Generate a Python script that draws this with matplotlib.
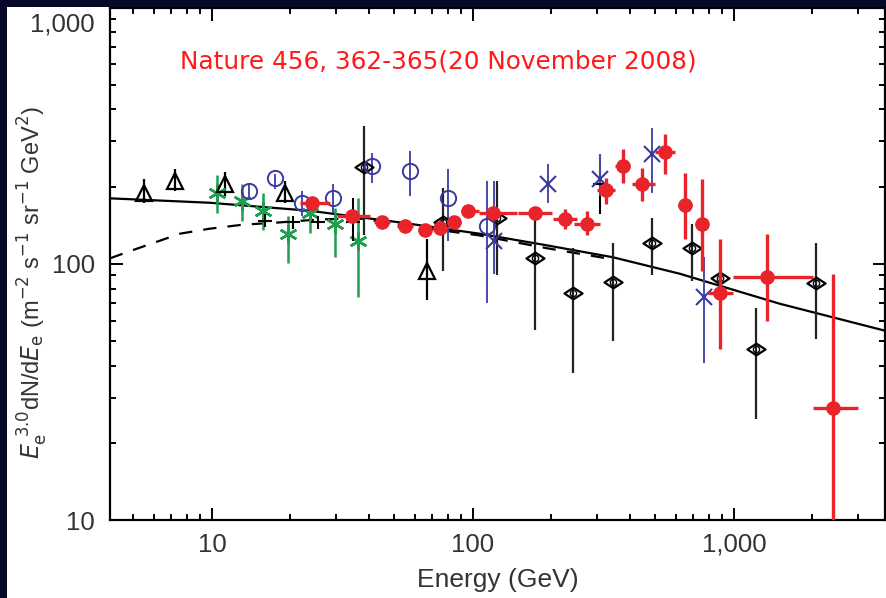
import numpy as np
import matplotlib
matplotlib.use('Agg')
import matplotlib.pyplot as plt
from matplotlib.patches import Rectangle
from matplotlib.path import Path

# black open triangles
tri_E = [5.5, 7.2, 11.2, 19.0, 67]
tri_F = [189, 211, 205, 189, 94]
tri_hi = [215, 235, 229, 211, 125]
tri_lo = [173, 193, 184, 173, 72]

# green asterisks
grn_E = [10.5, 13.0, 15.7, 19.5, 23.7, 29.6, 36.2]
grn_F = [188, 176, 161, 131, 158, 143, 123]
grn_hi = [221, 205, 188, 154, 176, 165, 180]
grn_lo = [158, 147, 135, 101, 132, 106, 74]

# black dashes
dsh_E = [16.0, 20.4, 25.5, 34.7, 307]
dsh_F = [147, 145, 145, 145, 205]
dsh_hi = [156, 154, 154, 181, 269]
dsh_lo = [139, 137, 137, 123, 157]

# blue open circles
cir_E = [13.9, 17.4, 22.1, 29.1, 41.0, 57.4, 80.2, 113]
cir_F = [193, 217, 173, 181, 241, 231, 180, 141]
cir_hi = [205, 225, 193, 205, 271, 276, 235, 211]
cir_lo = [181, 196, 154, 158, 207, 184, 123, 70]

# blue crosses
crs_E = [121, 194, 307, 485, 767]
crs_F = [123, 205, 215, 269, 74]
crs_hi = [211, 246, 269, 340, 106]
crs_lo = [91, 173, 184, 189, 41]

# black open diamonds
dia_E = [38.2, 76.7, 124, 173, 242, 344, 485, 690, 883, 1213, 2060]
dia_F = [239, 146, 151, 105, 77, 85, 121, 115, 88, 46.6, 84]
dia_hi = [346, 198, 211, 157, 115, 120, 151, 143, 94, 67, 120]
dia_lo = [129, 94, 90, 55, 37.5, 50, 90, 86, 82, 24.8, 51]

# red filled circles (ATIC)
red_E = [24.2, 34.4, 44.8, 54.8, 65.5, 74.8, 84.6, 95.7, 119, 173, 225,
         273, 323, 376, 444, 544, 649, 754, 883, 1337, 2393]
red_F = [173, 154, 146, 141, 135, 138, 145, 161, 158, 158, 150,
         143, 194, 241, 205, 272, 170, 143, 77, 89, 27.4]
red_hi = [179, 159, 151, 146, 140, 143, 150, 166, 163, 163, 164,
          161, 217, 281, 237, 322, 227, 215, 125, 131, 91]
red_lo = [167, 149, 141, 136, 130, 133, 140, 156, 153, 153, 137,
          129, 171, 207, 176, 225, 125, 94, 46.6, 60, 5]
red_xlo = [21.7, 30.1, 41.8, 51.2, 61.5, 70.3, 79.5, 89.9, 106, 149, 203,
           245, 299, 350, 406, 498, 609, 710, 794, 991, 2009]
red_xhi = [28.3, 40.3, 48.1, 58.9, 69.6, 79.5, 89.9, 106, 148, 201, 250,
           307, 350, 400, 498, 594, 690, 794, 991, 2009, 2985]

# model curves
sol_E = [4.07, 9.8, 23.7, 52.5, 106, 192, 344, 621, 1500, 3820]
sol_F = [180, 173, 161, 145, 131, 118, 106, 91.4, 69.8, 54.7]
das_E = [4.07, 4.85, 6.32, 7.54, 9.8, 13.1, 18.2, 25.9, 36.9, 52.5, 106, 192, 344]
das_F = [105, 112, 123, 131, 137, 142, 145, 149, 150, 142, 129, 115, 104]


def yerr(f, lo, hi):
    f, lo, hi = np.array(f), np.array(lo), np.array(hi)
    return [f - lo, hi - f]


plt.rcParams['font.family'] = ['Liberation Sans', 'DejaVu Sans']
txt_col = '#333333'

fig = plt.figure(figsize=(8.86, 5.98), dpi=100, facecolor='#07072a')
fig.patches.append(Rectangle((7 / 886, 0), 1, 1 - 7 / 598, transform=fig.transFigure,
                             facecolor='white', edgecolor='none', zorder=-10))
ax = fig.add_axes([110 / 886, 1 - 520 / 598, 775 / 886, 512.5 / 598])
ax.set_facecolor('white')

ax.plot(sol_E, sol_F, color='black', lw=1.6, zorder=2)
ax.plot(das_E, das_F, color='black', lw=1.6, ls=(0, (6, 5)), zorder=2)

ax.errorbar(tri_E, tri_F, yerr=yerr(tri_F, tri_lo, tri_hi), fmt='^', ms=12, mfc='none',
            mec='black', mew=1.6, ecolor='black', elinewidth=1.6, capsize=0, zorder=3)
ax.errorbar(grn_E, grn_F, yerr=yerr(grn_F, grn_lo, grn_hi), fmt='none',
            ecolor='#1e9e4e', elinewidth=1.8, capsize=0, zorder=3)
ax.plot(grn_E, grn_F, ls='none', marker=(6, 2, 0), ms=13, mec='#1e9e4e', mew=1.8, zorder=3)
ax.errorbar(dsh_E, dsh_F, yerr=yerr(dsh_F, dsh_lo, dsh_hi), fmt='_', ms=10,
            color='black', mew=1.5, elinewidth=1.5, capsize=0, zorder=3)
ax.errorbar(cir_E, cir_F, yerr=yerr(cir_F, cir_lo, cir_hi), fmt='o', ms=11, mfc='none',
            mec='#3a3a9e', mew=1.4, ecolor='#4a4aaa', elinewidth=1.4, capsize=0, zorder=3)
ax.errorbar(crs_E, crs_F, yerr=yerr(crs_F, crs_lo, crs_hi), fmt='x', ms=11,
            color='#3a3a9e', mew=1.5, ecolor='#4a4aaa', elinewidth=1.4, capsize=0, zorder=3)

wide_diamond = Path([(-1, 0), (0, 0.65), (1, 0), (0, -0.65), (-1, 0)],
                    [Path.MOVETO, Path.LINETO, Path.LINETO, Path.LINETO, Path.CLOSEPOLY])
ax.errorbar(dia_E, dia_F, yerr=yerr(dia_F, dia_lo, dia_hi), fmt='none',
            ecolor='#222222', elinewidth=1.6, capsize=0, zorder=3)
ax.plot(dia_E, dia_F, ls='none', marker=wide_diamond, ms=13, mfc='none',
        mec='black', mew=1.6, zorder=3)
ax.plot(dia_E, dia_F, ls='none', marker='o', ms=4.5, mfc='none',
        mec='black', mew=1.0, zorder=3)

red_E_arr = np.array(red_E)
ax.errorbar(red_E, red_F, yerr=yerr(red_F, red_lo, red_hi),
            xerr=[red_E_arr - np.array(red_xlo), np.array(red_xhi) - red_E_arr],
            fmt='o', ms=9.5, color='#e8232a', elinewidth=2.4, capsize=0, zorder=4)

ax.set_xscale('log')
ax.set_yscale('log')
ax.set_xlim(4.07, 3794)
ax.set_ylim(10, 1000)

for s in ax.spines.values():
    s.set_linewidth(1.6)
ax.tick_params(which='both', direction='in', top=True, right=True, width=1.4,
               labelsize=18.5, labelcolor=txt_col)
ax.tick_params(axis='x', which='both', pad=9)
ax.tick_params(axis='y', which='both', pad=11)
ax.tick_params(which='major', length=9)
ax.tick_params(which='minor', length=4.5)

ax.set_xticks([10, 100, 1000], ['10', '100', '1,000'])
ax.set_yticks([10, 100, 1000], ['10', '100', ''])
ax.annotate('1,000', xy=(0, 1000), xycoords=('axes fraction', 'data'),
            xytext=(-15, -17), textcoords='offset pixels', ha='right', va='center',
            fontsize=18.5, color=txt_col)

ax.set_xlabel('Energy (GeV)', fontsize=19, color=txt_col)
ax.xaxis.set_label_coords(0.5, -0.093)
ax.set_ylabel(r'$E_{\rm e}^{\ 3.0}$dN/d$E_{\rm e}$ (m$^{-2}$ s$^{-1}$ sr$^{-1}$ GeV$^{2}$)',
              fontsize=17, color=txt_col)
ax.yaxis.set_label_coords(-0.077, 0.464)

fig.text(180 / 886, 1 - 62 / 598, 'Nature 456, 362-365(20 November 2008)',
         color='#ff1a1a', fontsize=17.8, family='DejaVu Sans', va='center', ha='left')

fig.savefig('out.png', dpi=100, facecolor=fig.get_facecolor())
